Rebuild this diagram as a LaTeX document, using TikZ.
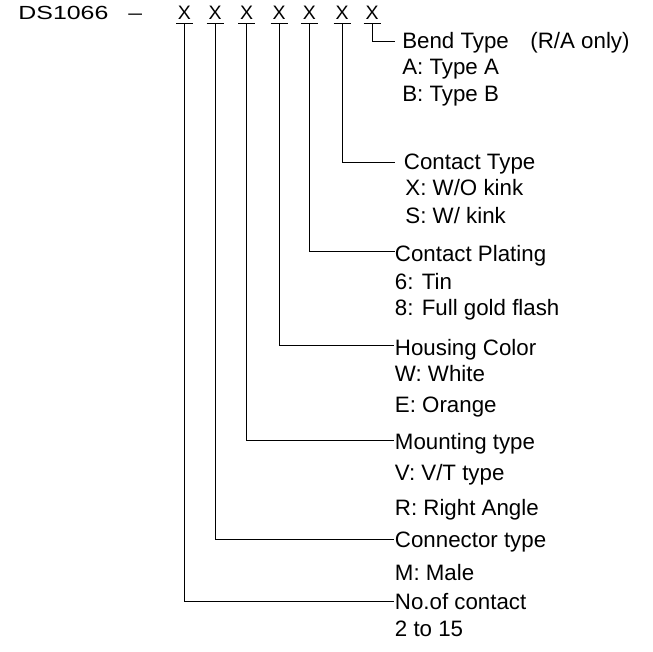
\documentclass[tikz,border=0pt]{standalone}
\usepackage{fontspec}
\setmainfont{Liberation Sans}
\usepackage{graphicx}
\begin{document}
\begin{tikzpicture}[x=1pt,y=-1pt,line width=0.9pt,
  lbl/.style={anchor=base west,inner sep=0pt,font=\fontsize{22.3}{26}\selectfont},
  xch/.style={anchor=base,inner sep=0pt,font=\fontsize{19.5}{22}\selectfont},
  hdr/.style={anchor=base west,inner sep=0pt,font=\fontsize{19}{22}\selectfont},
  lead/.style={draw=black,line width=0.9pt}]
\useasboundingbox (0,0) rectangle (653,651);
% header
\node[hdr] (pn) at (18,19) {\scalebox{1.31}[1]{DS1066}};
\node[hdr] (dash) at (128,19) {\scalebox{1.3}[1]{–}};
\foreach \i/\cx in {1/184.5,2/215,3/246.7,4/279,5/309.3,6/342,7/372}{
  \node[xch] (x\i) at (\cx,19) {X};
  \coordinate (u\i) at (\cx,23.3);
  \draw[lead] ([xshift=-8.5pt]u\i) -- ([xshift=8.5pt]u\i);
}
% Bend type
\node[lbl] (b1) at (401.8,48.3) {Bend Type};
\node[lbl] (b0) at (530,48.3) {(R/A only)};
\node[lbl] (b2) at (401.8,74) {A: Type A};
\node[lbl] (b3) at (401.8,101.5) {B: Type B};
% Contact type
\node[lbl] (c1) at (403.5,169.3) {Contact Type};
\node[lbl] (c2) at (405,195) {X: W/O kink};
\node[lbl] (c3) at (405,223.3) {S: W/ kink};
% Contact plating
\node[lbl] (p1) at (394.5,261) {Contact Plating};
\node[lbl] (p2) at (394.5,289.3) {6: Tin};
\node[lbl] (p3) at (394.5,315) {8: Full gold flash};
% Housing color
\node[lbl] (h1) at (394.5,355) {Housing Color};
\node[lbl] (h2) at (394.5,381.7) {W: White};
\node[lbl] (h3) at (394.5,412) {E: Orange};
% Mounting type
\node[lbl] (m1) at (394.5,449.3) {Mounting type};
\node[lbl] (m2) at (394.5,480) {V: V/T type};
\node[lbl] (m3) at (394.5,515) {R: Right Angle};
% Connector type
\node[lbl] (k1) at (394.5,547.3) {Connector type};
\node[lbl] (k2) at (394.5,580) {M: Male};
% No. of contact
\node[lbl] (n1) at (394.5,609.3) {No.of contact};
\node[lbl] (n2) at (394.5,636) {2 to 15};
% leaders
\draw[lead] (u7) |- ([xshift=-6.8pt,yshift=7.3pt]b1.base west);
\draw[lead] (u6) |- ([xshift=-8.5pt,yshift=7pt]c1.base west);
\draw[lead] (u5) |- ([xshift=0.5pt,yshift=9.3pt]p1.base west);
\draw[lead] (u4) |- ([xshift=-1pt,yshift=9.3pt]h1.base west);
\draw[lead] (u3) |- ([xshift=-1pt,yshift=9.3pt]m1.base west);
\draw[lead] (u2) |- ([xshift=-1pt,yshift=8pt]k1.base west);
\draw[lead] (u1) |- ([xshift=-1pt,yshift=7.6pt]n1.base west);
\end{tikzpicture}
\end{document}
